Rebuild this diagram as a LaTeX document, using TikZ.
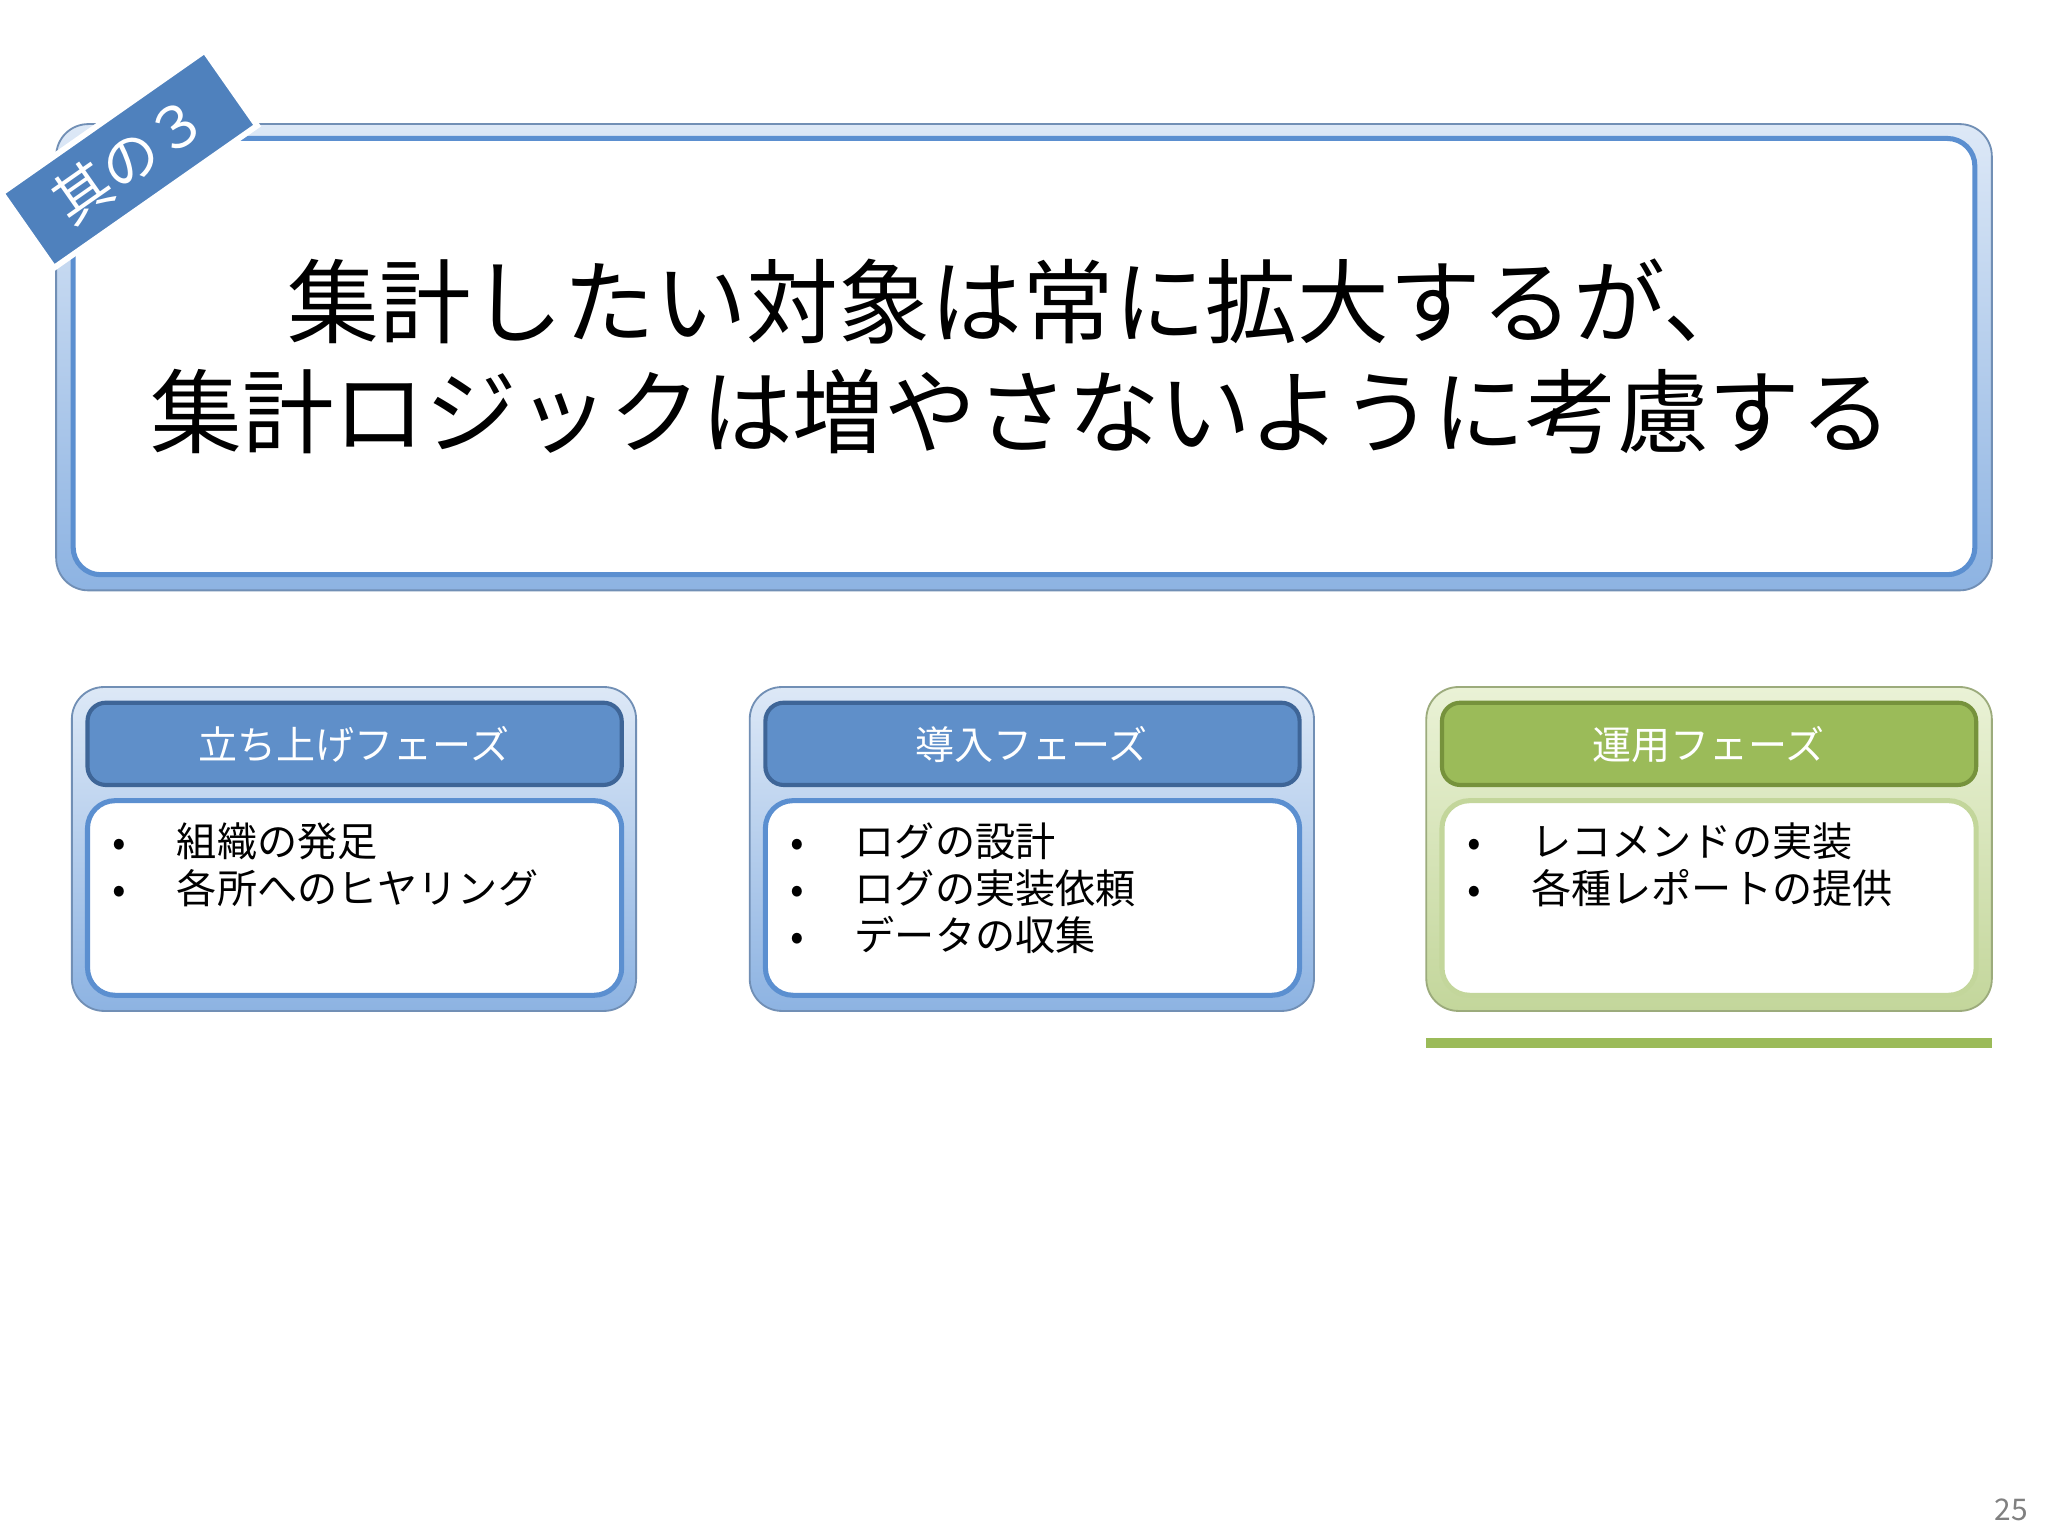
\documentclass[tikz,border=0pt]{standalone}
\usepackage{fontspec}
\setmainfont{Noto Sans CJK JP}
\usetikzlibrary{shapes.geometric}
\definecolor{bframe}{HTML}{C6D9F1}
\definecolor{bframeD}{HTML}{8DB3E2}
\definecolor{bline}{HTML}{5B8FD0}
\definecolor{bhead}{HTML}{5F8FC9}
\definecolor{bheadD}{HTML}{3E6597}
\definecolor{gframe}{HTML}{EAF2D6}
\definecolor{gframeD}{HTML}{C3D69B}
\definecolor{ghead}{HTML}{9BBB59}
\definecolor{gheadD}{HTML}{76923C}
\definecolor{tagblue}{HTML}{4F81BD}
\tikzset{
 px/.style={x=0.02cm,y=-0.02cm},
 outerB/.style={rounded corners=14pt,top color=bframe!60,bottom color=bframeD,draw=bframeD!80!black,line width=0.8pt},
 innerB/.style={rounded corners=12pt,fill=white,draw=bline,line width=2.2pt},
 outerG/.style={rounded corners=14pt,top color=gframe,bottom color=gframeD,draw=gframeD!80!black,line width=0.8pt},
 innerG/.style={rounded corners=12pt,fill=white,draw=gframeD,line width=2.2pt},
 headB/.style={rounded corners=8pt,fill=bhead,draw=bheadD,line width=1.8pt},
 headG/.style={rounded corners=8pt,fill=ghead,draw=gheadD,line width=1.8pt},
 headtxt/.style={text=white,font=\fontsize{17}{20}\selectfont},
 bul/.style={anchor=north west,align=left,font=\fontsize{17.5}{20.5}\selectfont},
}
\newcommand{\blt}{\makebox[28pt][l]{•}}
\begin{document}
\begin{tikzpicture}[px]
\useasboundingbox[fill=white] (0,0) rectangle (1568,1176);
% main box
\draw[outerB] (43,95) rectangle (1525,452);
\draw[innerB] (56,106) rectangle (1512,440);
\node (title) at (782,273) [align=center,font=\fontsize{40}{48}\selectfont] {集計したい対象は常に拡大するが、\\集計ロジックは増やさないように考慮する};
% tag
\node (tag) at (99,122) [rotate=35,fill=tagblue,draw=white,line width=2.5pt,text=white,minimum width=3.8cm,minimum height=1.4cm,inner sep=0pt,font=\fontsize{25}{30}\selectfont,drop shadow/.try] {其の３};
% panel 1
\draw[outerB] (55,526) rectangle (487,774);
\draw[headB] (67,538) rectangle (476,601);
\node[headtxt] (h1) at (271,570) {立ち上げフェーズ};
\draw[innerB] (67,613) rectangle (476,762);
\node[bul] (b1) at (80,624) {\blt 組織の発足\\\blt 各所へのヒヤリング};
% panel 2
\draw[outerB] (574,526) rectangle (1006,774);
\draw[headB] (586,538) rectangle (995,601);
\node[headtxt] (h2) at (790,570) {導入フェーズ};
\draw[innerB] (586,613) rectangle (995,762);
\node[bul] (b2) at (599,624) {\blt ログの設計\\\blt ログの実装依頼\\\blt データの収集};
% panel 3
\draw[outerG] (1092,526) rectangle (1525,774);
\draw[headG] (1104,538) rectangle (1513,601);
\node[headtxt] (h3) at (1308,570) {運用フェーズ};
\draw[innerG] (1104,613) rectangle (1513,762);
\node[bul] (b3) at (1117,624) {\blt レコメンドの実装\\\blt 各種レポートの提供};
\fill[ghead] (1092,795) rectangle (1525,802);
\node[text=gray,font=\fontsize{13}{15}\selectfont] (pg) at (1540,1156) {25};
\end{tikzpicture}
\end{document}
